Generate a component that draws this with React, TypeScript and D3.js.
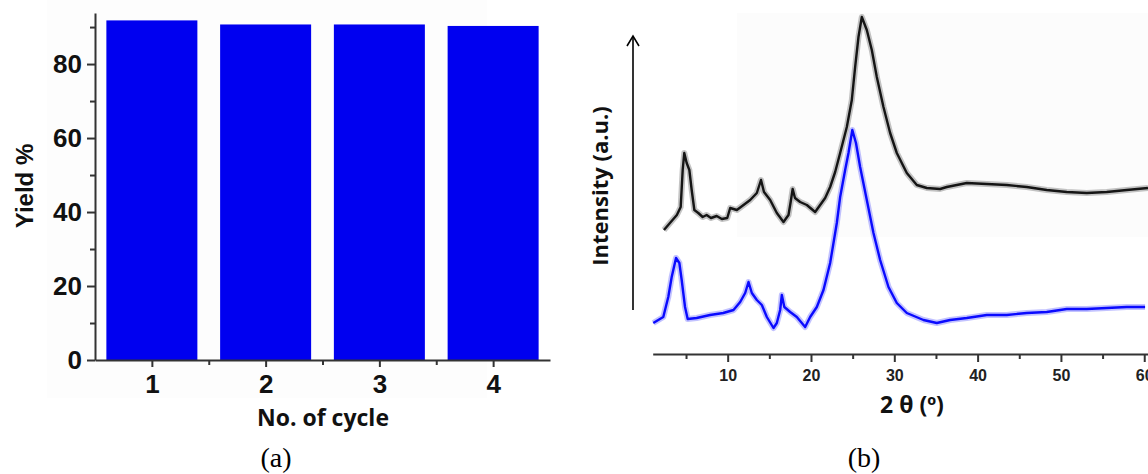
import React, { useEffect, useRef } from "react";
import * as d3 from "d3";

// (a) recycling yield
const cycles = [1, 2, 3, 4];
const yields = [91.8, 90.7, 90.7, 90.3];
const yieldTicks = [0, 20, 40, 60, 80];
const yieldMinor = [10, 30, 50, 70, 90];

// (b) XRD patterns, 2θ in degrees, intensity in a.u.
const blackTheta = [
  2.35, 3.07, 3.9, 4.36, 4.6, 4.79, 5.08, 5.4, 5.68, 6.0, 6.47, 7.0, 7.47, 8.0,
  8.68, 9.3, 9.95, 10.3, 11.1, 11.9, 12.7, 13.5, 14.0, 14.36, 15.1, 15.9, 16.7,
  17.3, 17.56, 17.8, 18.08, 18.7, 19.5, 20.5, 21.1, 21.7, 22.3, 22.9, 23.5, 24.3,
  24.9, 25.3, 25.7, 26.1, 26.7, 27.3, 27.9, 28.7, 29.5, 30.3, 31.5, 32.7, 33.9,
  35.5, 36.3, 38.7, 41.1, 43.5, 45.9, 48.3, 50.7, 53.1, 55.5, 57.9, 60.45,
];
const blackInt = [
  124, 131, 139, 147, 184, 201, 191, 184, 164, 144, 141, 137, 139, 136, 138, 135,
  136, 146, 144, 149, 154, 161, 174, 162, 154, 141, 132, 139, 152, 165, 156, 152,
  149, 142, 149, 156, 167, 182, 201, 227, 254, 287, 317, 337, 324, 304, 277, 247,
  221, 201, 181, 169, 166, 165, 167, 171, 170, 169, 167, 164, 162, 161, 162, 164,
  166,
];
const blueTheta = [
  1.07, 1.67, 2.27, 2.87, 3.28, 3.8, 4.2, 4.48, 4.88, 5.2, 6.28, 7.88, 9.47, 10.7,
  11.5, 12.1, 12.5, 12.9, 13.5, 14.1, 14.7, 15.5, 15.9, 16.3, 16.5, 16.8, 17.5,
  18.3, 19.3, 19.9, 20.7, 21.5, 22.3, 23.1, 23.5, 24.1, 24.5, 24.96, 25.4, 25.9,
  26.7, 27.5, 28.3, 29.3, 30.3, 31.5, 33.5, 35.1, 36.7, 38.7, 41.1, 43.5, 45.9,
  48.3, 50.7, 53.1, 55.5, 57.9, 60.1,
];
const blueInt = [
  31, 34, 37, 57, 77, 96, 91, 74, 47, 35, 36, 39, 41, 44, 52, 61, 72, 61, 54, 49,
  37, 26, 31, 44, 59, 47, 42, 37, 27, 37, 47, 64, 91, 131, 157, 184, 201, 224, 211,
  187, 154, 121, 94, 67, 51, 41, 34, 31, 34, 36, 39, 39, 41, 42, 45, 45, 46, 47, 47,
];
const thetaTicks = [10, 20, 30, 40, 50, 60];
const thetaMinor = [5, 15, 25, 35, 45, 55];

const boldSans = "'Liberation Sans', Arial, sans-serif";
const labelFont = "'Open Sans', sans-serif";

export default function App() {
  const ref = useRef<SVGSVGElement>(null);

  useEffect(() => {
    const svg = d3.select(ref.current);
    svg.selectAll("*").remove();

    // faint scan background tint
    svg.append("rect").attr("x", 47).attr("y", 0).attr("width", 440).attr("height", 398).attr("fill", "#fdfdfd");
    svg.append("rect").attr("x", 737).attr("y", 13).attr("width", 411).attr("height", 224).attr("fill", "#fcfcfc");

    // ---------- (a) bar chart ----------
    const xBar = d3.scaleLinear().domain([0.5, 4.5]).range([95, 550]);
    const yBar = d3.scaleLinear().domain([0, 93.8]).range([360, 13]);

    const a = svg.append("g");
    a.selectAll("rect.bar")
      .data(cycles)
      .enter()
      .append("rect")
      .attr("class", "bar")
      .attr("x", (d) => xBar(d - 0.4))
      .attr("width", xBar(1.4) - xBar(0.6))
      .attr("y", (d, i) => yBar(yields[i]))
      .attr("height", (d, i) => yBar(0) - yBar(yields[i]))
      .attr("fill", "#0000f0");

    const yAxis = a.append("g").attr("transform", "translate(95,0)");
    yAxis.call(d3.axisLeft(yBar).tickValues(yieldTicks).tickSize(8).tickSizeOuter(0).tickPadding(5));
    const yMinor = a.append("g").attr("transform", "translate(95,0)");
    yMinor.call(d3.axisLeft(yBar).tickValues(yieldMinor).tickSize(5).tickSizeOuter(0).tickFormat(() => ""));
    yMinor.select(".domain").remove();

    const xAxis = a.append("g").attr("transform", "translate(0,360)");
    xAxis.call(d3.axisBottom(xBar).tickValues(cycles).tickSize(7).tickSizeOuter(0).tickPadding(8).tickFormat(d3.format("d")));
    const xMinor = a.append("g").attr("transform", "translate(0,360)");
    xMinor.call(d3.axisBottom(xBar).tickValues([1.5, 2.5, 3.5]).tickSize(5).tickSizeOuter(0).tickFormat(() => ""));
    xMinor.select(".domain").remove();

    [yAxis, xAxis].forEach((g) => {
      g.selectAll("text").attr("font-family", boldSans).attr("font-weight", "bold").attr("font-size", 26).attr("fill", "#111");
    });
    [yAxis, yMinor, xAxis, xMinor].forEach((g) => {
      g.selectAll("path, line").attr("stroke", "#333").attr("stroke-width", 2);
    });

    a.append("text")
      .attr("transform", "translate(33,186) rotate(-90)")
      .attr("text-anchor", "middle")
      .attr("font-family", boldSans)
      .attr("font-weight", "bold")
      .attr("font-size", 24)
      .attr("fill", "#111")
      .text("Yield %");
    a.append("text")
      .attr("x", 323)
      .attr("y", 426)
      .attr("text-anchor", "middle")
      .attr("font-family", labelFont)
      .attr("font-weight", "bold")
      .attr("font-size", 23)
      .attr("fill", "#111")
      .text("No. of cycle");

    // ---------- (b) XRD ----------
    const xr = d3.scaleLinear().domain([1, 60.5]).range([652.7, 1148.4]);
    const yr = d3.scaleLinear().domain([0, 340]).range([354, 14]);
    const b = svg.append("g");

    const line = d3
      .line<number>()
      .x((d) => xr(d))
      .curve(d3.curveLinear);

    const drawCurve = (th: number[], iv: number[], color: string) => {
      const l = line.y((d, i) => yr(iv[i]));
      b.append("path").attr("d", l(th)).attr("fill", "none").attr("stroke", color).attr("stroke-width", 6).attr("stroke-opacity", 0.25).attr("stroke-linejoin", "round");
      b.append("path").attr("d", l(th)).attr("fill", "none").attr("stroke", color).attr("stroke-width", 2.4).attr("stroke-linejoin", "round");
    };
    drawCurve(blackTheta, blackInt, "#151515");
    drawCurve(blueTheta, blueInt, "#0a0aff");

    const tAxis = b.append("g").attr("transform", "translate(0,354)");
    tAxis.call(d3.axisBottom(xr).tickValues(thetaTicks).tickSize(8).tickSizeOuter(0).tickPadding(8));
    const tMinor = b.append("g").attr("transform", "translate(0,354)");
    tMinor.call(d3.axisBottom(xr).tickValues(thetaMinor).tickSize(5).tickSizeOuter(0).tickFormat(() => ""));
    tMinor.select(".domain").remove();
    tAxis.selectAll("text").attr("font-family", boldSans).attr("font-weight", "bold").attr("font-size", 16).attr("fill", "#222");
    [tAxis, tMinor].forEach((g) => g.selectAll("path, line").attr("stroke", "#333").attr("stroke-width", 2));

    // intensity arrow
    b.append("line").attr("x1", 633).attr("x2", 633).attr("y1", 310).attr("y2", 36).attr("stroke", "#000").attr("stroke-width", 1.6);
    b.append("path").attr("d", "M627,46 L633,36 L639,46").attr("fill", "none").attr("stroke", "#000").attr("stroke-width", 1.6);

    b.append("text")
      .attr("transform", "translate(608,186) rotate(-90)")
      .attr("text-anchor", "middle")
      .attr("font-family", labelFont)
      .attr("font-weight", "bold")
      .attr("font-size", 22)
      .attr("fill", "#111")
      .text("Intensity (a.u.)");
    b.append("text")
      .attr("x", 912)
      .attr("y", 413)
      .attr("text-anchor", "middle")
      .attr("font-family", labelFont)
      .attr("font-weight", "bold")
      .attr("font-size", 23)
      .attr("fill", "#111")
      .text("2 θ (º)");

    // panel captions
    svg.append("text").attr("x", 276).attr("y", 467).attr("text-anchor", "middle").attr("font-family", "'Liberation Serif', serif").attr("font-size", 28).text("(a)");
    svg.append("text").attr("x", 864).attr("y", 467).attr("text-anchor", "middle").attr("font-family", "'Liberation Serif', serif").attr("font-size", 28).text("(b)");
  }, []);

  return (
    <svg
      ref={ref}
      width={1148}
      height={474}
      style={{ position: "absolute", left: 0, top: 0, background: "#fff" }}
    />
  );
}
